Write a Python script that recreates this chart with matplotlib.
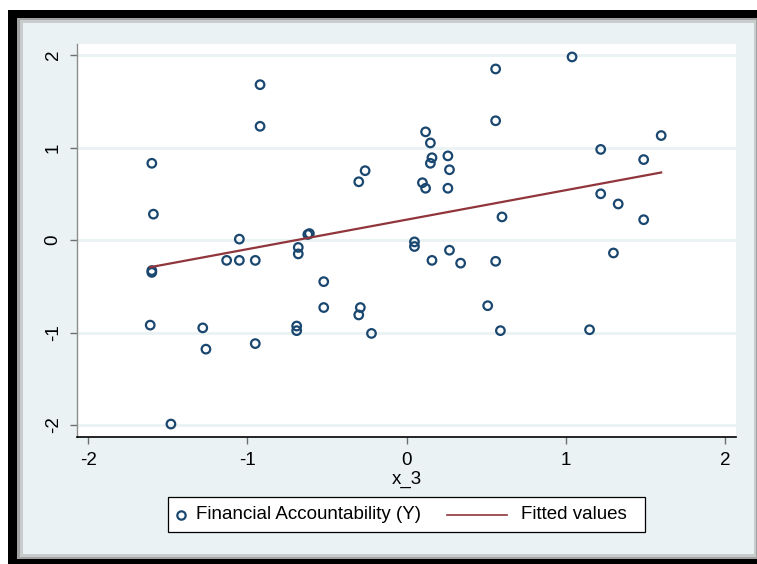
import numpy as np
import matplotlib.pyplot as plt
from matplotlib.patches import Rectangle
from matplotlib.lines import Line2D

plt.rcParams['font.family'] = ['Liberation Sans', 'DejaVu Sans']

# x_3 scores and Financial Accountability (Y)
x3 = [-1.60, -1.59, -1.60, -1.60, -1.61, -1.48, -1.28, -1.26, -1.13, -1.05,
      -1.05, -0.95, -0.95, -0.92, -0.92, -0.68, -0.68, -0.62, -0.61, -0.52,
      -0.52, -0.69, -0.69, -0.29, -0.30, -0.22, -0.30, -0.26, 1.04, 0.56,
      0.56, 0.12, 0.15, 0.16, 0.15, 0.26, 0.27, 0.10, 0.12, 0.26,
      1.22, 1.49, 1.60, 1.22, 1.33, 1.49, 0.60, 0.05, 0.05, 0.27,
      0.16, 0.34, 0.56, 1.30, 0.51, 0.59, 1.15]
fin_acc = [0.83, 0.28, -0.33, -0.35, -0.92, -1.99, -0.95, -1.18, -0.22, -0.22,
           0.01, -0.22, -1.12, 1.68, 1.23, -0.08, -0.15, 0.06, 0.07, -0.45,
           -0.73, -0.93, -0.98, -0.73, -0.81, -1.01, 0.63, 0.75, 1.98, 1.85,
           1.29, 1.17, 1.05, 0.89, 0.83, 0.91, 0.76, 0.62, 0.56, 0.56,
           0.98, 0.87, 1.13, 0.50, 0.39, 0.22, 0.25, -0.02, -0.07, -0.11,
           -0.22, -0.25, -0.23, -0.14, -0.71, -0.98, -0.97]

# fitted line coefficients (intercept, slope)
fit_coef = [0.220, 0.319]

x3 = np.array(x3)
fin_acc = np.array(fin_acc)
fit_x = np.array([x3.min(), x3.max()])
fit_y = fit_coef[0] + fit_coef[1] * fit_x

NAVY = '#1a476f'
MAROON = '#90353b'
FS = 13.5

W, H = 757, 564
fig = plt.figure(figsize=(W / 100, H / 100), dpi=100)
fig.patch.set_facecolor('white')


def fx(px):
    return px / W


def fy(py):
    return 1 - py / H


def px_rect(x0, y0, x1, y1, color, z=0, edge='none', lw=0):
    # rectangle given in pixel coords from top-left
    fig.patches.append(Rectangle((fx(x0), fy(y1)), (x1 - x0) / W, (y1 - y0) / H,
                                 transform=fig.transFigure, facecolor=color,
                                 edgecolor=edge, linewidth=lw, zorder=z))


# black border and grey shadow round the graph region
px_rect(8, 10, 757, 18, 'black', -5)
px_rect(8, 10, 17, 564, 'black', -5)
px_rect(8, 559, 757, 564, 'black', -5)
px_rect(17, 18, 757, 559, '#a3a3a3', -4)
px_rect(20, 20, 756, 557, '#c8cccd', -3)
px_rect(23, 23, 754, 554, '#eaf2f3', -2)

ax = fig.add_axes([fx(77), fy(437), (736 - 77) / W, (437 - 44) / H])
ax.set_zorder(5)
ax.set_facecolor('white')

ax.scatter(x3, fin_acc, s=38, facecolors='none', edgecolors=NAVY,
           linewidths=1.6, zorder=3)
ax.plot(fit_x, fit_y, color=MAROON, lw=1.6, zorder=4)

ax.set_xlim(-2.07, 2.07)
ax.set_ylim(-2.13, 2.12)
ax.set_xticks([-2, -1, 0, 1, 2])
ax.set_yticks([-2, -1, 0, 1, 2])
ax.set_xticklabels(['-2', '-1', '0', '1', '2'])
ax.set_yticklabels(['-2', '-1', '0', '1', '2'], rotation=90, va='center')
ax.tick_params(axis='both', labelsize=FS, length=5, width=1, color='#6e6e6e',
               pad=6, labelcolor='black')
ax.grid(axis='y', color='#eaf2f3', lw=2)
ax.set_axisbelow(True)

for side in ['top', 'right']:
    ax.spines[side].set_visible(False)
ax.spines['left'].set_color('#8c8c8c')
ax.spines['bottom'].set_color('black')
ax.spines['left'].set_linewidth(1)
ax.spines['bottom'].set_linewidth(1.2)

ax.set_xlabel('x_3', fontsize=FS, labelpad=1)

# legend box below the plot
px_rect(168, 497, 645, 532, 'white', 10, edge='black', lw=0.9)
ly = fy(514.5)
fig.lines.append(Line2D([fx(181)], [ly], transform=fig.transFigure, ls='none',
                        marker='o', ms=6, mfc='none', mec=NAVY, mew=1.6, zorder=11))
fig.text(fx(196), ly, 'Financial Accountability (Y)', fontsize=FS,
         va='center', ha='left', zorder=11)
fig.lines.append(Line2D([fx(447), fx(507)], [ly, ly], transform=fig.transFigure,
                        color=MAROON, lw=1.2, zorder=11))
fig.text(fx(521), ly, 'Fitted values', fontsize=FS, va='center', ha='left', zorder=11)

fig.savefig('out.png', dpi=100, facecolor=fig.get_facecolor())
